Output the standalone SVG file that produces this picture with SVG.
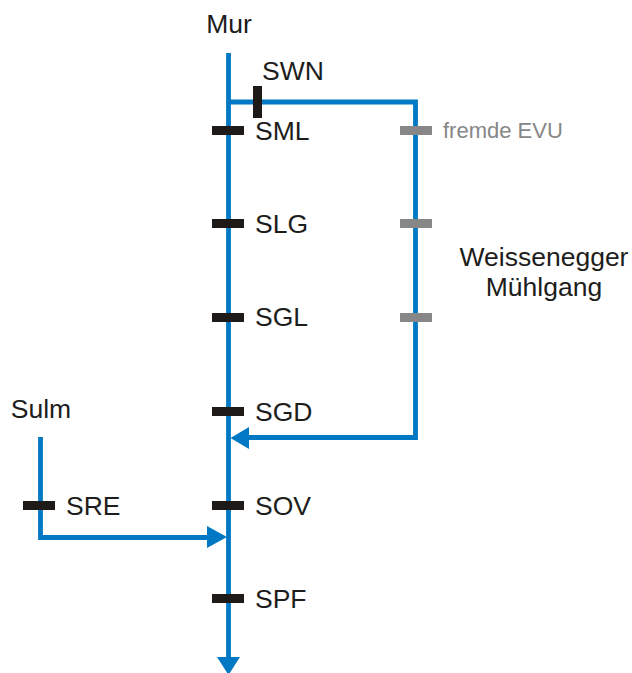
<svg xmlns="http://www.w3.org/2000/svg" width="632" height="673" viewBox="0 0 632 673">
<style>
text{font-family:"Liberation Sans",Arial,sans-serif;font-size:26.500px;fill:#1d1d1b}
.l{fill:none;stroke:#0078c4;stroke-width:4.800}
.a{fill:#0078c4}
.b{fill:#1d1a18}
.g{fill:#878787}
</style>
<rect width="632" height="673" fill="#fff"/>
<g id="connectors">
<path class="l" d="M228.500 53V660"/>
<path class="l" d="M228.500 102H415.500V437.500H248"/>
<path class="l" d="M40.500 437V537.500H208"/>
<polygon class="a" points="230.500,438 249,427 249,449"/>
<polygon class="a" points="227,537 207,526 207,548"/>
<polygon class="a" points="228.500,675 217,657 240,657"/>
</g>
<g id="mur"><text x="229" y="33" text-anchor="middle">Mur</text></g>
<g id="sulm"><text x="41" y="418" text-anchor="middle">Sulm</text></g>
<g id="swn"><rect class="b" x="253" y="86" width="9" height="32"/><text x="262" y="80">SWN</text></g>
<g id="sml"><rect class="b" x="212" y="126" width="32" height="9"/><text x="255" y="140">SML</text></g>
<g id="slg"><rect class="b" x="212" y="219" width="32" height="9"/><text x="255" y="233">SLG</text></g>
<g id="sgl"><rect class="b" x="212" y="313" width="32" height="9"/><text x="255" y="326">SGL</text></g>
<g id="sgd"><rect class="b" x="212" y="407" width="32" height="9"/><text x="255" y="421">SGD</text></g>
<g id="sov"><rect class="b" x="212" y="501" width="32" height="9"/><text x="255" y="515">SOV</text></g>
<g id="spf"><rect class="b" x="212" y="594" width="32" height="9"/><text x="255" y="608">SPF</text></g>
<g id="sre"><rect class="b" x="23" y="501" width="32" height="9"/><text x="66" y="515">SRE</text></g>
<g id="evu1"><rect class="g" x="400" y="126" width="32" height="9"/><text x="443" y="138" style="font-size:22px;fill:#878787">fremde EVU</text></g>
<g id="evu2"><rect class="g" x="400" y="219" width="32" height="9"/></g>
<g id="evu3"><rect class="g" x="400" y="313" width="32" height="9"/></g>
<g id="muehlgang"><text x="544" y="266" text-anchor="middle">Weissenegger</text><text x="544" y="296" text-anchor="middle">Mühlgang</text></g>
</svg>
